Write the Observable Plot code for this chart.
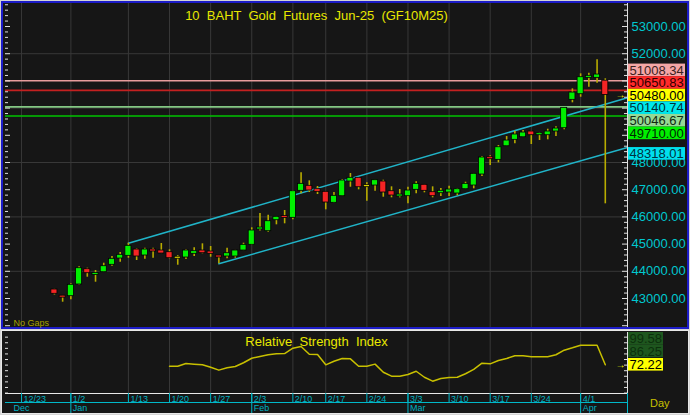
<!DOCTYPE html>
<html><head><meta charset="utf-8">
<script src="https://cdn.jsdelivr.net/npm/d3@7"></script>
<script src="https://cdn.jsdelivr.net/npm/@observablehq/plot@0.6"></script>
<style>
body{margin:0;background:#d4d4d4;}
#wrap{position:relative;width:690px;height:415px;overflow:hidden;background:#d4d4d4;}
.panel{position:absolute;background:#161616;box-sizing:border-box;}
#p1{left:1px;top:1px;width:688px;height:328px;border:2px solid #1c1cc8;}
#p2{left:1px;top:330px;width:688px;height:84px;border:1px solid #e8e8e8;}
#main,#rsi{position:absolute;left:0;}
#main{top:0}#rsi{top:330px}
svg{overflow:visible;white-space:pre;}
</style></head>
<body>
<div id="wrap">
  <div class="panel" id="p1"></div>
  <div class="panel" id="p2"></div>
  <div id="main"></div>
  <div id="rsi"></div>
</div>
<script>
// ---------- data ----------
const tradingDays = ["12/23","12/24","12/25","12/26","12/27","12/30",
 "1/2","1/3","1/6","1/7","1/8","1/9","1/10","1/13","1/14","1/15","1/16","1/17","1/20","1/21","1/22","1/23","1/24","1/27","1/28","1/29","1/30","1/31",
 "2/3","2/4","2/5","2/6","2/7","2/10","2/11","2/13","2/14","2/17","2/18","2/19","2/20","2/21","2/24","2/25","2/26","2/27","2/28",
 "3/3","3/4","3/5","3/6","3/7","3/10","3/11","3/12","3/13","3/14","3/17","3/18","3/19","3/20","3/21","3/24","3/25","3/26","3/27","3/28","3/31",
 "4/1","4/2","4/3","4/4"];
const candleStart = 4; // first candle on 12/27
const opens  = [43331,43099,43085,43515,44077,43871,43967,44239,44470,44569,44801,44581,44801,44764,44702,44500,44507,44643,44764,44728,44569,44544,44544,44764,44974,45536,45474,45878,46025,45966,46959,47143,47020,46922,46518,46761,47301,47437,47130,47154,47301,46944,46750,46761,46996,47180,46908,46871,46897,46860,47018,47154,47558,48194,48098,48598,48834,48929,49139,49003,49003,49139,49260,50304,50510,51113,51113,51008.34];
const highs  = [43340,43110,43540,44165,44114,44029,44298,44544,44691,45033,44827,44849,44849,45022,44790,44581,44790,44863,45011,44911,44581,44849,44770,45033,45599,46125,46062,46014,46235,46970,47620,47326,47117,46933,46897,47375,47595,47448,47253,47349,47349,47106,47007,47091,47290,47190,47106,47044,47128,47044,47275,47595,48220,48246,48624,48955,49150,49176,49150,49102,49224,49312,50021,50708,51260,51282,51775,51077];
const lows   = [43129,42864,42952,43496,43783,43599,43956,44187,44334,44481,44397,44445,44481,44650,44459,44224,44434,44544,44643,44518,44276,44459,44481,44760,44948,45481,45437,45709,45746,45893,46849,46897,46823,46260,46500,46750,47091,46996,46577,46944,46724,46702,46702,46481,46849,46886,46702,46750,46750,46775,47007,47033,47485,47889,47988,48598,48687,48918,48661,48808,48834,48955,49201,50194,50400,50767,50914,46481];
const closes = [43173,43037,43504,44114,43930,43930,44187,44459,44606,44937,44544,44801,44728,44654,44481,44500,44764,44739,44665,44643,44518,44665,44764,44974,45500,45610,45841,46003,45966,46944,47216,46970,46922,46529,46775,47338,47437,47091,47130,47349,46897,46786,46823,46970,47216,46959,46761,46959,47007,47018,47216,47584,48183,48121,48561,48808,49029,49102,49003,49077,49139,49249,50010,50572,51135,51187,51234,50480];

const rsiStart = 18; // RSI line starts 1/20
const rsiValues = [71.2,71.2,73.2,72.7,72.2,70.5,68.4,70.1,71.0,73.7,76.9,78.2,79.4,80.1,80.3,84.1,85.3,79.8,79.6,72.2,74.8,76.7,76.5,71.2,71.2,72.7,66.9,64.1,64.1,65.3,67.6,63.3,60.5,62.4,63.1,63.3,65.8,68.9,73.4,72.9,75.3,76.7,78.7,78.7,78.0,78.0,78.0,79.4,82.7,84.4,86.25,86.2,86.2,72.22];
const rsiLabelValues = [99.58, 86.25, 72.22];

const dateTickIdx = [0,6,13,18,23,28,33,37,42,47,52,57,62,68];
const monthTickIdx = [6,28,47,68];
const monthLabels = ["Jan","Feb","Mar","Apr"];
const firstMonthLabel = "Dec";

const priceTicks = [43000,44000,45000,46000,47000,48000,49000,50000,51000,52000,53000];
const gridPrices = [44000,46000,48000,50000,52000];

const levelValues = [51008.34, 50650.83, 50046.67, 49710.00];
const levelColors = ["#e89c9c", "#c42020", "#84c884", "#00c400"];
const lastPrice = 50480.00;
const channelUpper = [[13, 45030], [71, 50140.74]];
const channelLower = [[24, 44276], [71, 48318.01]];

const titleText = "10  BAHT  Gold  Futures  Jun-25  (GF10M25)";
const rsiTitle = "Relative  Strength  Index";

// ---------- layout ----------
const W = 690, mL = 5, mR = 63;
const xDomain = [-1.95, 73.7];
const xMin = xDomain[0], xMax = xDomain[1];
const xPerPx = (xMax - xMin) / (W - mL - mR);
const xAtPx = p => xMin + (p - mL) * xPerPx;

const H1 = 330, mT1 = 3, mB1 = 3;
const yDomain1 = [41934, 53846];
const upp1 = (yDomain1[1] - yDomain1[0]) / (H1 - mT1 - mB1);

const cyanText = "#00c8d0";
const tickColor = "#e0e0e0";
const gridColor = "#383838";
const font = "'Liberation Sans', Arial, sans-serif";

// candles
const candles = opens.map((o, k) => {
  const i = candleStart + k, c = closes[k];
  let lo = Math.min(o, c), hi = Math.max(o, c);
  const minH = 2 * upp1;
  if (hi - lo < minH) { const m = (hi + lo) / 2; lo = m - minH / 2; hi = m + minH / 2; }
  return {i, o, h: highs[k], l: lows[k], c, lo, hi,
    fill: c > o ? "#00f000" : c < o ? "#f42424" : "#e8e000"};
});

function extend(seg) {
  const [[i0, v0], [i1, v1]] = seg;
  const s = (v1 - v0) / (i1 - i0);
  return [{i: i0, v: v0}, {i: xMax, v: v1 + s * (xMax - i1)}];
}
const upperAtLast = channelUpper[1][1], lowerAtLast = channelLower[1][1];

// right-side labels (stacked)
const stackItems = [
  {v: levelValues[0], bg: "#f4a6a6", fg: "#3a2020"},
  {v: levelValues[1], bg: "#ff2a2a", fg: "#300000"},
  {v: lastPrice, bg: "#ffff00", fg: "#000000"},
  {v: upperAtLast, bg: "#00e8ec", fg: "#003038"},
  {v: levelValues[2], bg: "#96d896", fg: "#102810"},
  {v: levelValues[3], bg: "#00f000", fg: "#002800"}
];
const boxPx = 12.6;
const meanV = d3.mean(stackItems, d => d.v);
const centerV = meanV - 3 * upp1;
stackItems.forEach((d, k) => { d.ly = centerV - (k - 2.5) * boxPx * upp1; });
const labelItems = stackItems.concat([{v: lowerAtLast, ly: lowerAtLast, bg: "#00e0ee", fg: "#003040"}]);
labelItems.forEach(d => { d.text = d.v.toFixed(2); });
// axis labels that sit under a value box are hidden by it
const visibleTicks = priceTicks.filter(t => !labelItems.some(d => Math.abs(t - d.ly) < boxPx / 2 * upp1));

const minorTicks1 = d3.range(42000, 53801, 200);
const isMajor = v => Math.abs(v % 1000) < 1e-6;

const main = Plot.plot({
  width: W, height: H1,
  marginLeft: mL, marginRight: mR, marginTop: mT1, marginBottom: mB1,
  style: {background: "transparent", fontFamily: font, overflow: "visible"},
  x: {domain: xDomain, axis: null},
  y: {domain: yDomain1, axis: null},
  marks: [
    Plot.ruleX(dateTickIdx, {x: d => d, stroke: gridColor, strokeWidth: 1}),
    Plot.ruleY(gridPrices, {y: d => d, stroke: gridColor, strokeWidth: 1}),
    Plot.ruleY(levelValues, {y: d => d, stroke: (d, k) => levelColors[k], strokeWidth: 1.6}),
    Plot.line(extend(channelUpper), {x: "i", y: "v", stroke: "#20b4c8", strokeWidth: 1.5}),
    Plot.line(extend(channelLower), {x: "i", y: "v", stroke: "#20b4c8", strokeWidth: 1.5}),
    Plot.ruleX(candles, {x: "i", y1: "l", y2: "h", stroke: "#b8ac00", strokeWidth: 1.6}),
    Plot.rect(candles, {x1: d => d.i - 0.37, x2: d => d.i + 0.37, y1: "lo", y2: "hi", fill: "fill", stroke: "#000", strokeWidth: 0.8}),
    // axis lines & ticks
    Plot.ruleX([xMax], {x: d => d, stroke: tickColor, strokeWidth: 1}),
    Plot.ruleY(minorTicks1, {y: d => d, x1: d => xMax - (isMajor(d) ? 5 : 3) * xPerPx, x2: () => xMax, stroke: tickColor, strokeWidth: 1}),
    Plot.ruleY(minorTicks1, {y: d => d, x1: () => xMin, x2: d => xMin + (isMajor(d) ? 5 : 3) * xPerPx, stroke: tickColor, strokeWidth: 1}),
    Plot.text(visibleTicks, {x: () => xMax, y: d => d, text: d => d.toFixed(2), dx: 4, textAnchor: "start", fill: cyanText, fontSize: 13}),
    // stacked value boxes
    Plot.rect(labelItems, {x1: () => xAtPx(628), x2: () => xAtPx(685), y1: d => d.ly - boxPx / 2 * upp1, y2: d => d.ly + boxPx / 2 * upp1, fill: "bg"}),
    Plot.text(labelItems, {x: () => xAtPx(629), y: "ly", text: "text", textAnchor: "start", fill: "fg", fontSize: 13}),
    Plot.text(["→"], {x: () => xMax, y: () => lastPrice, dx: -7, fill: "#ffff00", fontSize: 10, fontWeight: "bold"}),
    // title & note
    Plot.text([titleText], {frameAnchor: "top", lineAnchor: "middle", dy: 12.5, fill: "#e8e800", fontSize: 13}),
    Plot.text(["No Gaps"], {frameAnchor: "bottom-left", lineAnchor: "middle", dx: 8, dy: -4.5, textAnchor: "start", fill: "#a8a000", fontSize: 9})
  ]
});
document.getElementById("main").appendChild(main);

// ---------- RSI panel ----------
const H2 = 85, mT2 = 2, mB2 = 22;
const yDomain2 = [51.68, 95.34];
const upp2 = (yDomain2[1] - yDomain2[0]) / (H2 - mT2 - mB2);
const y0 = yDomain2[0];
const rsiData = rsiValues.map((v, k) => ({i: rsiStart + k, v}));

const rsiLabels = [];
{
  let prev = yDomain2[1] - 6.3 * upp2 + 12.6 * upp2;
  rsiLabelValues.forEach((v, k) => {
    const ly = Math.min(v, prev - 12.6 * upp2);
    rsiLabels.push({v, ly, text: v.toFixed(2), bg: k < 2 ? "#1e561e" : "#ffff00", fg: k < 2 ? "#0c300c" : "#000"});
    prev = ly;
  });
}
const rsiTicks = d3.range(52, 95.5, 4);
const dateTicks = dateTickIdx.map(i => ({i, label: tradingDays[i]}));
const monthTicks = monthTickIdx.map((i, k) => ({i, label: monthLabels[k]}));

const rsi = Plot.plot({
  width: W, height: H2,
  marginLeft: mL, marginRight: mR, marginTop: mT2, marginBottom: mB2,
  style: {background: "transparent", fontFamily: font, overflow: "visible"},
  x: {domain: xDomain, axis: null},
  y: {domain: yDomain2, axis: null},
  marks: [
    Plot.ruleX(dateTickIdx, {x: d => d, y1: () => y0, y2: () => yDomain2[1], stroke: gridColor}),
    Plot.line(rsiData, {x: "i", y: "v", stroke: "#c8c000", strokeWidth: 1.5}),
    Plot.ruleX([xMax], {x: d => d, y1: () => y0, y2: () => yDomain2[1], stroke: tickColor}),
    Plot.ruleY(rsiTicks, {y: d => d, x1: () => xMax - 3 * xPerPx, x2: () => xMax, stroke: tickColor}),
    Plot.ruleY(rsiTicks, {y: d => d, x1: () => xMin, x2: () => xMin + 3 * xPerPx, stroke: tickColor}),
    Plot.ruleY([y0], {y: d => d, stroke: "#e8e8e8", strokeWidth: 1}),
    Plot.ruleY([y0 - 9 * upp2], {y: d => d, stroke: "#00b8c8", strokeWidth: 1}),
    Plot.ruleX(dateTicks, {x: "i", y1: () => y0, y2: () => y0 - 9 * upp2, stroke: "#00b8c8"}),
    Plot.ruleX(monthTicks, {x: "i", y1: () => y0, y2: () => y0 - 20 * upp2, stroke: "#00b8c8"}),
    Plot.ruleX([xMax], {x: d => d, y1: () => y0, y2: () => y0 - 20 * upp2, stroke: "#00b8c8"}),
    Plot.text(dateTicks, {x: "i", y: () => y0, text: "label", dx: 2, dy: 6, textAnchor: "start", fill: "#00b0c0", fontSize: 9}),
    Plot.text(monthTicks, {x: "i", y: () => y0, text: "label", dx: 2, dy: 15, textAnchor: "start", fill: "#00b0c0", fontSize: 9}),
    Plot.text([firstMonthLabel], {x: () => xMin, y: () => y0, dx: 8, dy: 15, textAnchor: "start", fill: "#00b0c0", fontSize: 9}),
    Plot.rect(rsiLabels, {x1: () => xAtPx(628), x2: () => xAtPx(663), y1: d => d.ly - 6.3 * upp2, y2: d => d.ly + 6.3 * upp2, fill: "bg"}),
    Plot.text(rsiLabels, {x: () => xAtPx(629), y: "ly", text: "text", textAnchor: "start", fill: "fg", fontSize: 13}),
    Plot.text(["→"], {x: () => xMax, y: () => rsiLabelValues[2], dx: -7, fill: "#ffff00", fontSize: 10, fontWeight: "bold"}),
    Plot.text([rsiTitle], {frameAnchor: "top", lineAnchor: "middle", dy: 9.7, fill: "#e8e800", fontSize: 13}),
    Plot.text(["Day"], {frameAnchor: "bottom-right", lineAnchor: "middle", dx: 42, dy: 10, fill: "#c8c000", fontSize: 11})
  ]
});
document.getElementById("rsi").appendChild(rsi);
</script>
</body></html>
